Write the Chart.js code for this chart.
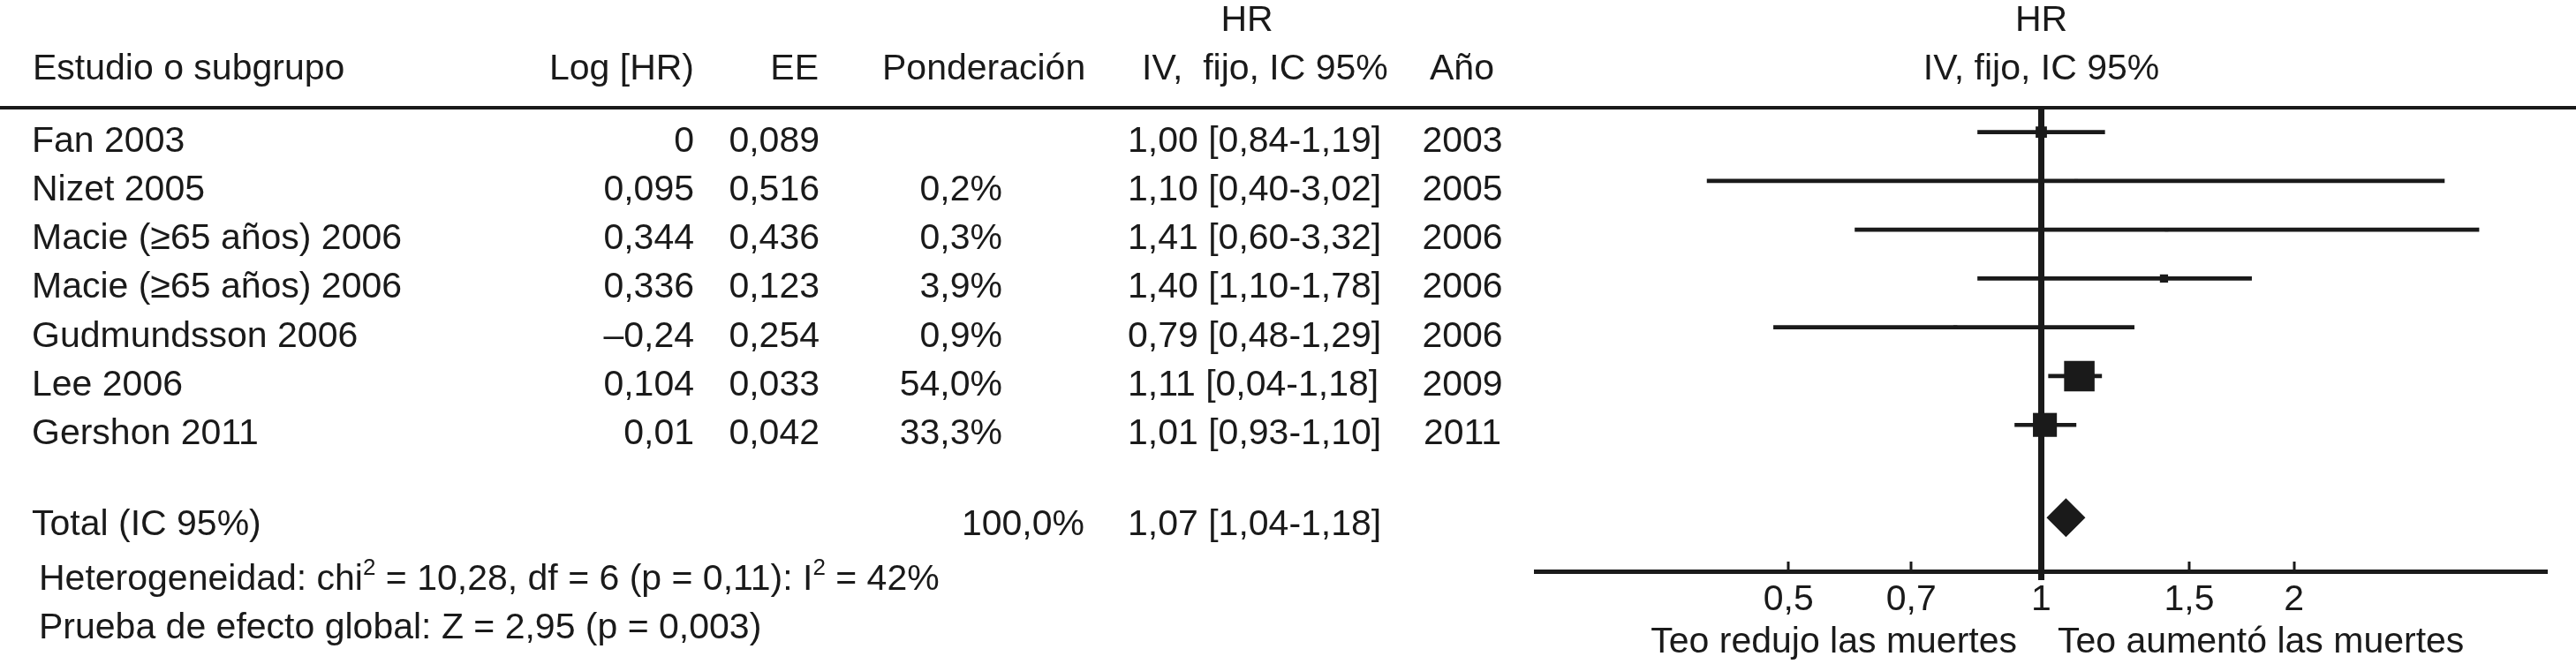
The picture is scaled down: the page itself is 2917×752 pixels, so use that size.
<!DOCTYPE html>
<html><head><meta charset="utf-8">
<script src="https://cdn.jsdelivr.net/npm/chart.js@4.4.1/dist/chart.umd.min.js"></script>
<style>html,body{margin:0;padding:0;background:#fff;overflow:hidden}#wrap{width:2917px;height:752px;position:relative}canvas{display:block}</style>
</head><body><div id="wrap"><canvas id="c" width="2917" height="752"></canvas></div>
<script>
// ---------- data ----------
const studies = ['Fan 2003','Nizet 2005','Macie (\u226565 a\u00f1os) 2006','Macie (\u226565 a\u00f1os) 2006','Gudmundsson 2006','Lee 2006','Gershon 2011'];
const logHR = ['0','0,095','0,344','0,336','\u20130,24','0,104','0,01'];
const seLabels = ['0,089','0,516','0,436','0,123','0,254','0,033','0,042'];
const weightLabels = ['','0,2%','0,3%','3,9%','0,9%','54,0%','33,3%'];
const weights = [7.4, 0.2, 0.3, 3.9, 0.9, 54.0, 33.3];
const hr = [1.00, 1.10, 1.41, 1.40, 0.79, 1.11, 1.01];
const ciLow = [0.84, 0.40, 0.60, 0.84, 0.48, 1.02, 0.93];
const ciHigh = [1.19, 3.02, 3.32, 1.78, 1.29, 1.18, 1.10];
const ciLabels = ['1,00 [0,84-1,19]','1,10 [0,40-3,02]','1,41 [0,60-3,32]','1,40 [1,10-1,78]','0,79 [0,48-1,29]','1,11 [0,04-1,18]','1,01 [0,93-1,10]'];
const years = ['2003','2005','2006','2006','2006','2009','2011'];
const totalHR = 1.07;
const totalLabel = '1,07 [1,04-1,18]';
const totalWeight = '100,0%';
const tickValues = [0.5, 0.7, 1, 1.5, 2];
const tickLabels = ['0,5','0,7','1','1,5','2'];

// ---------- layout ----------
const FONT = '"Liberation Sans", Arial, Helvetica, sans-serif';
const FS = 41;
const INK = '#1a1a1a';
const TOTAL_ROW = 7.9;
const TEXT_DY = 22;

const ciData = studies.map((s, i) => ({x: [ciLow[i], ciHigh[i]], y: i}));
const ptData = studies.map((s, i) => ({x: hr[i], y: i}));
const sqSide = weights.map(w => Math.max(4, 4.7 * Math.sqrt(w)));

function txt(ctx, s, x, y, align, size) {
  ctx.font = (size || FS) + 'px ' + FONT;
  ctx.textAlign = align || 'left';
  ctx.textBaseline = 'alphabetic';
  ctx.fillStyle = INK;
  ctx.fillText(s, x, y);
}
function richLine(ctx, parts, x, y) {
  let cx = x;
  ctx.textAlign = 'left';
  ctx.textBaseline = 'alphabetic';
  ctx.fillStyle = INK;
  for (const p of parts) {
    const sup = p.sup;
    ctx.font = (sup ? 26 : FS) + 'px ' + FONT;
    ctx.fillText(p.t, cx, sup ? y - 17 : y);
    cx += ctx.measureText(p.t).width;
  }
}

const tablePlugin = {
  id: 'table',
  afterDraw(chart) {
    const ctx = chart.ctx;
    const ys = chart.scales.y, xs = chart.scales.x;
    ctx.save();
    // header line
    ctx.fillStyle = INK;
    ctx.fillRect(0, 120, 2917, 4);
    // headers
    txt(ctx, 'Estudio o subgrupo', 37, 90);
    txt(ctx, 'Log [HR)', 786, 90, 'right');
    txt(ctx, 'EE', 927, 90, 'right');
    txt(ctx, 'Ponderaci\u00f3n', 999, 90);
    txt(ctx, 'HR', 1412, 35, 'center');
    txt(ctx, 'IV,  fijo, IC 95%', 1293, 90);
    txt(ctx, 'A\u00f1o', 1619, 90);
    const cx1 = xs.getPixelForValue(1);
    txt(ctx, 'HR', cx1, 35, 'center');
    txt(ctx, 'IV, fijo, IC 95%', cx1, 90, 'center');
    // rows
    studies.forEach((s, i) => {
      const y = ys.getPixelForValue(i) + TEXT_DY;
      txt(ctx, s, 36, y);
      txt(ctx, logHR[i], 786, y, 'right');
      txt(ctx, seLabels[i], 928, y, 'right');
      if (weightLabels[i]) txt(ctx, weightLabels[i], 1135, y, 'right');
      txt(ctx, ciLabels[i], 1277, y);
      txt(ctx, years[i], 1656, y, 'center');
    });
    const ty = ys.getPixelForValue(TOTAL_ROW) + TEXT_DY - 2;
    txt(ctx, 'Total (IC 95%)', 36, ty);
    txt(ctx, totalWeight, 1228, ty, 'right');
    txt(ctx, totalLabel, 1277, ty);
    richLine(ctx, [{t:'Heterogeneidad: chi'},{t:'2',sup:true},{t:' = 10,28, df = 6 (p = 0,11): I'},{t:'2',sup:true},{t:' = 42%'}], 44, 668);
    txt(ctx, 'Prueba de efecto global: Z = 2,95 (p = 0,003)', 44, 723);
    // axis ticks (upward)
    const by = xs.top;
    ctx.fillStyle = INK;
    xs.ticks.forEach(t => {
      const px = Math.round(xs.getPixelForValue(t.value));
      ctx.fillRect(px - 1.5, by - 11, 3, 11);
    });
    txt(ctx, 'Teo redujo las muertes', 2284, 739, 'right');
    txt(ctx, 'Teo aument\u00f3 las muertes', 2330, 739, 'left');
    ctx.restore();
  }
};

new Chart(document.getElementById('c'), {
  type: 'scatter',
  data: {
    datasets: [
      {
        type: 'line', data: [{x: 1, y: -0.5}, {x: 1, y: 9.18}],
        borderColor: INK, borderWidth: 7, pointRadius: 0, clip: false, order: 5
      },
      {
        type: 'bar', indexAxis: 'y', data: ciData,
        backgroundColor: INK, borderWidth: 0, barThickness: 4, order: 4
      },
      {
        type: 'scatter', data: ptData, pointStyle: 'rect',
        pointRadius: ctx => sqSide[ctx.dataIndex] / Math.SQRT2,
        pointHoverRadius: ctx => sqSide[ctx.dataIndex] / Math.SQRT2,
        backgroundColor: INK, borderWidth: 0, order: 3
      },
      {
        type: 'scatter', data: [{x: totalHR, y: TOTAL_ROW}], pointStyle: 'rectRot',
        pointRadius: 22, backgroundColor: INK, borderWidth: 0, order: 2
      }
    ]
  },
  options: {
    responsive: false, animation: false, devicePixelRatio: 1,
    events: [],
    layout: {padding: {left: 1739, right: 33, top: 122, bottom: 39}},
    plugins: {legend: {display: false}, tooltip: {enabled: false}},
    scales: {
      x: {
        type: 'logarithmic', min: 0.25, max: 4, offset: false,
        afterBuildTicks: s => { s.ticks = tickValues.map(v => ({value: v})); },
        ticks: {
          autoSkip: false, maxRotation: 0, padding: 8.4, color: INK,
          font: {family: FONT, size: FS},
          callback: (v) => { const k = tickValues.indexOf(v); return k >= 0 ? tickLabels[k] : ''; }
        },
        grid: {display: false, drawTicks: false, offset: false},
        border: {display: true, color: INK, width: 5}
      },
      y: {type: 'linear', min: -0.5, max: 9, reverse: true, display: false, offset: false, grid: {offset: false}}
    }
  },
  plugins: [tablePlugin]
});
</script>
</body></html>
